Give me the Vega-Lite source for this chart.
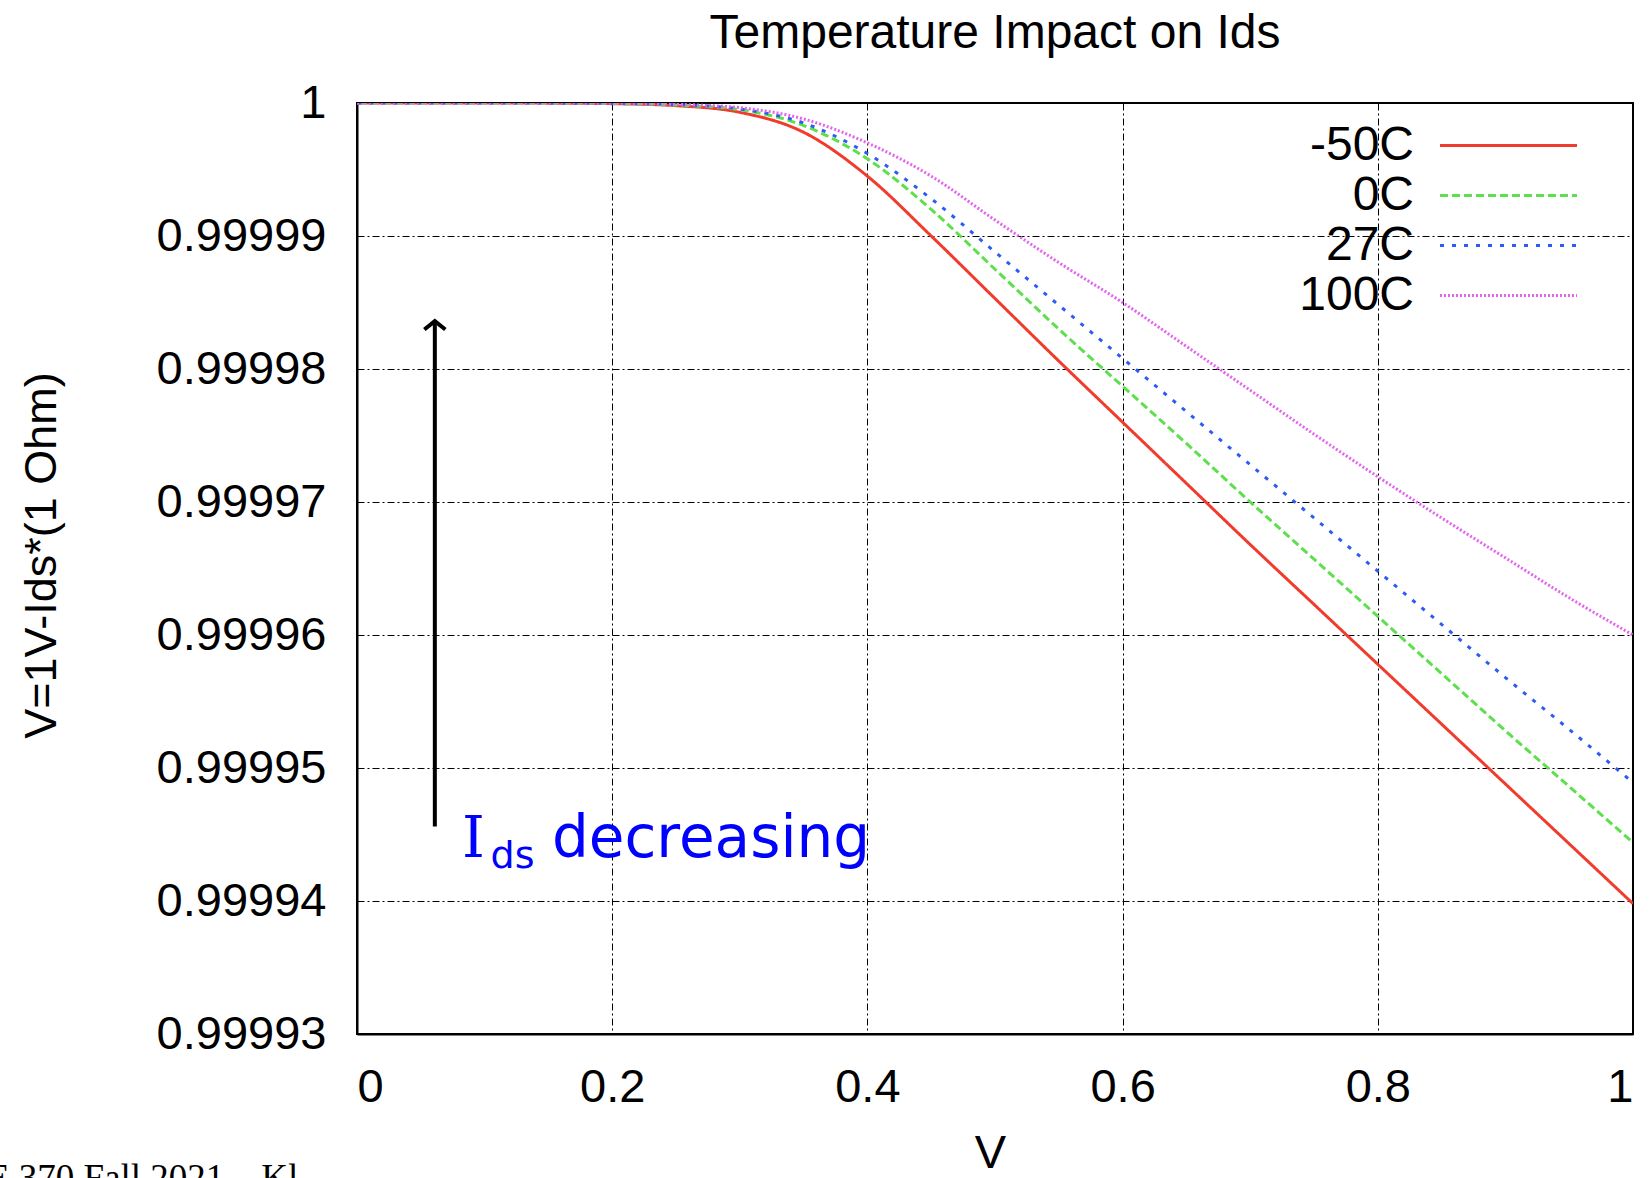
{
  "$schema": "https://vega.github.io/schema/vega-lite/v6.json",
  "width": 1276,
  "height": 931,
  "autosize": {"type": "none"},
  "padding": {"left": 357, "top": 103, "right": 17, "bottom": 144},
  "background": "white",
  "title": {
    "text": "Temperature Impact on Ids",
    "font": "Liberation Sans",
    "fontSize": 48,
    "fontWeight": "normal",
    "color": "black",
    "anchor": "middle",
    "frame": "group",
    "baseline": "alphabetic",
    "offset": 29,
    "dy": 46
  },
  "config": {
    "view": {"stroke": "black", "strokeWidth": 2},
    "axis": {
      "labelFont": "Liberation Sans",
      "labelFontSize": 47,
      "labelColor": "black",
      "titleFont": "Liberation Sans",
      "titleFontWeight": "normal",
      "titleColor": "black",
      "domainColor": "black",
      "domainWidth": 2,
      "ticks": false,
      "gridColor": "black",
      "gridWidth": 1,
      "gridOpacity": 1,
      "gridDash": [7, 3, 2, 3]
    },
    "legend": {
      "orient": "none",
      "legendX": 1127,
      "legendY": 18,
      "title": null,
      "labelFont": "Liberation Sans",
      "labelFontSize": 48,
      "labelColor": "black",
      "labelAlign": "right",
      "labelOffset": -119,
      "symbolType": "M-3,0H3",
      "symbolSize": 2085,
      "symbolStrokeWidth": 3,
      "rowPadding": 1,
      "labelLimit": 0
    }
  },
  "datasets": {
    "curves": [
      {"V": 0.0, "T": "-50C", "y": 1.0},
      {"V": 0.05, "T": "-50C", "y": 1.0},
      {"V": 0.1, "T": "-50C", "y": 1.0},
      {"V": 0.15, "T": "-50C", "y": 0.99999999},
      {"V": 0.2, "T": "-50C", "y": 0.99999995},
      {"V": 0.25, "T": "-50C", "y": 0.9999998},
      {"V": 0.3, "T": "-50C", "y": 0.9999993},
      {"V": 0.35, "T": "-50C", "y": 0.9999978},
      {"V": 0.4, "T": "-50C", "y": 0.9999945},
      {"V": 0.45, "T": "-50C", "y": 0.99999},
      {"V": 0.5, "T": "-50C", "y": 0.9999853},
      {"V": 0.55, "T": "-50C", "y": 0.9999806},
      {"V": 0.6, "T": "-50C", "y": 0.999976},
      {"V": 0.65, "T": "-50C", "y": 0.9999714},
      {"V": 0.7, "T": "-50C", "y": 0.9999668},
      {"V": 0.75, "T": "-50C", "y": 0.9999623},
      {"V": 0.8, "T": "-50C", "y": 0.9999578},
      {"V": 0.85, "T": "-50C", "y": 0.9999533},
      {"V": 0.9, "T": "-50C", "y": 0.9999488},
      {"V": 0.95, "T": "-50C", "y": 0.9999443},
      {"V": 1.0, "T": "-50C", "y": 0.9999398},

      {"V": 0.0, "T": "0C", "y": 1.0},
      {"V": 0.05, "T": "0C", "y": 1.0},
      {"V": 0.1, "T": "0C", "y": 1.0},
      {"V": 0.15, "T": "0C", "y": 0.99999999},
      {"V": 0.2, "T": "0C", "y": 0.99999996},
      {"V": 0.25, "T": "0C", "y": 0.99999985},
      {"V": 0.3, "T": "0C", "y": 0.9999995},
      {"V": 0.35, "T": "0C", "y": 0.9999983},
      {"V": 0.4, "T": "0C", "y": 0.9999958},
      {"V": 0.45, "T": "0C", "y": 0.999992},
      {"V": 0.5, "T": "0C", "y": 0.9999875},
      {"V": 0.55, "T": "0C", "y": 0.999983},
      {"V": 0.6, "T": "0C", "y": 0.9999787},
      {"V": 0.65, "T": "0C", "y": 0.9999744},
      {"V": 0.7, "T": "0C", "y": 0.99997},
      {"V": 0.75, "T": "0C", "y": 0.9999657},
      {"V": 0.8, "T": "0C", "y": 0.9999614},
      {"V": 0.85, "T": "0C", "y": 0.9999571},
      {"V": 0.9, "T": "0C", "y": 0.9999528},
      {"V": 0.95, "T": "0C", "y": 0.9999486},
      {"V": 1.0, "T": "0C", "y": 0.9999444},

      {"V": 0.0, "T": "27C", "y": 1.0},
      {"V": 0.05, "T": "27C", "y": 1.0},
      {"V": 0.1, "T": "27C", "y": 1.0},
      {"V": 0.15, "T": "27C", "y": 0.99999999},
      {"V": 0.2, "T": "27C", "y": 0.99999997},
      {"V": 0.25, "T": "27C", "y": 0.99999988},
      {"V": 0.3, "T": "27C", "y": 0.99999955},
      {"V": 0.35, "T": "27C", "y": 0.9999985},
      {"V": 0.4, "T": "27C", "y": 0.9999962},
      {"V": 0.45, "T": "27C", "y": 0.9999928},
      {"V": 0.5, "T": "27C", "y": 0.9999888},
      {"V": 0.55, "T": "27C", "y": 0.9999848},
      {"V": 0.6, "T": "27C", "y": 0.9999808},
      {"V": 0.65, "T": "27C", "y": 0.9999768},
      {"V": 0.7, "T": "27C", "y": 0.9999728},
      {"V": 0.75, "T": "27C", "y": 0.9999688},
      {"V": 0.8, "T": "27C", "y": 0.9999648},
      {"V": 0.85, "T": "27C", "y": 0.9999608},
      {"V": 0.9, "T": "27C", "y": 0.9999568},
      {"V": 0.95, "T": "27C", "y": 0.9999529},
      {"V": 1.0, "T": "27C", "y": 0.9999489},

      {"V": 0.0, "T": "100C", "y": 1.0},
      {"V": 0.05, "T": "100C", "y": 1.0},
      {"V": 0.1, "T": "100C", "y": 1.0},
      {"V": 0.15, "T": "100C", "y": 0.999999995},
      {"V": 0.2, "T": "100C", "y": 0.99999998},
      {"V": 0.25, "T": "100C", "y": 0.9999999},
      {"V": 0.3, "T": "100C", "y": 0.99999965},
      {"V": 0.35, "T": "100C", "y": 0.9999988},
      {"V": 0.4, "T": "100C", "y": 0.999997},
      {"V": 0.45, "T": "100C", "y": 0.9999945},
      {"V": 0.5, "T": "100C", "y": 0.9999912},
      {"V": 0.55, "T": "100C", "y": 0.999988},
      {"V": 0.6, "T": "100C", "y": 0.999985},
      {"V": 0.65, "T": "100C", "y": 0.9999817},
      {"V": 0.7, "T": "100C", "y": 0.9999784},
      {"V": 0.75, "T": "100C", "y": 0.9999751},
      {"V": 0.8, "T": "100C", "y": 0.9999719},
      {"V": 0.85, "T": "100C", "y": 0.9999688},
      {"V": 0.9, "T": "100C", "y": 0.9999658},
      {"V": 0.95, "T": "100C", "y": 0.9999628},
      {"V": 1.0, "T": "100C", "y": 0.99996}
    ],
    "arrow": [{"V": 0.061, "y": 0.9999456, "y2": 0.9999836}],
    "arrowhead": [{"V": 0.061, "y": 0.9999836}],
    "labelI": [{"V": 0.0823, "y": 0.9999433, "text": "I"}],
    "labelSub": [{"V": 0.1047, "y": 0.9999425, "text": "ds"}],
    "labelMain": [{"V": 0.1528, "y": 0.9999433, "text": "decreasing"}],
    "footer": [{"V": -0.29, "y": 0.99991827, "text": "E 370 Fall 2021 – Kl"}]
  },
  "layer": [
    {
      "data": {"name": "curves"},
      "mark": {"type": "line", "strokeWidth": 3, "interpolate": "monotone", "clip": true},
      "encoding": {
        "x": {
          "field": "V",
          "type": "quantitative",
          "scale": {"domain": [0, 1], "nice": false, "zero": false},
          "axis": {
            "values": [0, 0.2, 0.4, 0.6, 0.8, 1],
            "format": ".1~f",
            "labelPadding": 30,
            "title": "V",
            "titleFontSize": 47,
            "titleX": 633,
            "titleY": 133,
            "titleBaseline": "alphabetic",
            "titleAlign": "center"
          }
        },
        "y": {
          "field": "y",
          "type": "quantitative",
          "scale": {"domain": [0.99993, 1], "nice": false, "zero": false},
          "axis": {
            "values": [0.99993, 0.99994, 0.99995, 0.99996, 0.99997, 0.99998, 0.99999, 1],
            "labelExpr": "datum.value >= 0.999999 ? '1' : format(datum.value, '.5f')",
            "labelPadding": 31,
            "title": "V=1V-Ids*(1 Ohm)",
            "titleFontSize": 45,
            "titleAngle": -90,
            "titleX": -302,
            "titleY": 452,
            "titleBaseline": "alphabetic",
            "titleAlign": "center"
          }
        },
        "color": {
          "field": "T",
          "type": "nominal",
          "scale": {
            "domain": ["-50C", "0C", "27C", "100C"],
            "range": ["#f03c2c", "#5ee04e", "#2e5cf2", "#e464f0"]
          }
        },
        "strokeDash": {
          "field": "T",
          "type": "nominal",
          "scale": {
            "domain": ["-50C", "0C", "27C", "100C"],
            "range": [[1, 0], [8, 4], [4, 8], [2, 2]]
          }
        }
      }
    },
    {
      "data": {"name": "arrow"},
      "mark": {"type": "rule", "color": "black", "strokeWidth": 4},
      "encoding": {
        "x": {"field": "V", "type": "quantitative"},
        "y": {"field": "y", "type": "quantitative"},
        "y2": {"field": "y2"}
      }
    },
    {
      "data": {"name": "arrowhead"},
      "mark": {
        "type": "point",
        "shape": "M-1,0.8L0,0L1,0.8",
        "filled": false,
        "stroke": "black",
        "strokeWidth": 4,
        "size": 441,
        "opacity": 1
      },
      "encoding": {
        "x": {"field": "V", "type": "quantitative"},
        "y": {"field": "y", "type": "quantitative"}
      }
    },
    {
      "data": {"name": "labelI"},
      "mark": {"type": "text", "font": "DejaVu Serif", "fontSize": 58, "color": "#0000ff", "align": "left", "baseline": "alphabetic"},
      "encoding": {
        "x": {"field": "V", "type": "quantitative"},
        "y": {"field": "y", "type": "quantitative"},
        "text": {"field": "text"}
      }
    },
    {
      "data": {"name": "labelSub"},
      "mark": {"type": "text", "font": "DejaVu Sans", "fontSize": 38, "color": "#0000ff", "align": "left", "baseline": "alphabetic"},
      "encoding": {
        "x": {"field": "V", "type": "quantitative"},
        "y": {"field": "y", "type": "quantitative"},
        "text": {"field": "text"}
      }
    },
    {
      "data": {"name": "labelMain"},
      "mark": {"type": "text", "font": "DejaVu Sans", "fontSize": 58, "color": "#0000ff", "align": "left", "baseline": "alphabetic"},
      "encoding": {
        "x": {"field": "V", "type": "quantitative"},
        "y": {"field": "y", "type": "quantitative"},
        "text": {"field": "text"}
      }
    },
    {
      "data": {"name": "footer"},
      "mark": {"type": "text", "font": "Liberation Serif", "fontSize": 37, "color": "black", "align": "left", "baseline": "alphabetic"},
      "encoding": {
        "x": {"field": "V", "type": "quantitative"},
        "y": {"field": "y", "type": "quantitative"},
        "text": {"field": "text"}
      }
    }
  ]
}
